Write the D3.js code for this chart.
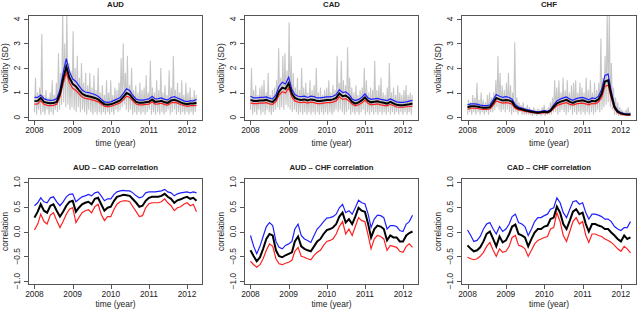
<!DOCTYPE html>
<html><head><meta charset="utf-8">
<script src="https://cdn.jsdelivr.net/npm/d3@7"></script>
<style>body{margin:0;background:#fff}svg{display:block}</style>
</head><body><svg id="c" width="640" height="310"></svg>
<script>
// ---------- DATA ----------
const months = ["2008-01","2008-02","2008-03","2008-04","2008-05","2008-06","2008-07","2008-08","2008-09","2008-10","2008-11","2008-12",
"2009-01","2009-02","2009-03","2009-04","2009-05","2009-06","2009-07","2009-08","2009-09","2009-10","2009-11","2009-12",
"2010-01","2010-02","2010-03","2010-04","2010-05","2010-06","2010-07","2010-08","2010-09","2010-10","2010-11","2010-12",
"2011-01","2011-02","2011-03","2011-04","2011-05","2011-06","2011-07","2011-08","2011-09","2011-10","2011-11","2011-12",
"2012-01","2012-02","2012-03","2012-04"];
const yearTicks = [2008, 2009, 2010, 2011, 2012];
const volTicks = [0, 1, 2, 3, 4];
const corTicks = [-1.0, -0.5, 0.0, 0.5, 1.0];
const grayStart = "2008-01-01";
const grayStepDays = 10;

// daily absolute returns (sampled every 10 days)
const audGray = [0.2,1.6,0.1,1.0,0.3,1.2,0.1,3.4,0.2,0.9,0.1,1.1,
0.3,0.8,0.1,1.0,0.2,1.5,0.1,0.9,0.3,1.4,0.2,2.6,
0.3,1.8,0.5,4.3,0.6,3.0,0.4,4.3,0.5,2.2,0.3,1.9,
0.4,3.5,0.3,2.0,0.2,2.5,0.4,1.6,0.2,2.2,0.3,1.4,
0.2,1.8,0.1,1.3,0.3,1.8,0.2,1.2,0.1,1.7,0.2,1.1,
0.1,2.0,0.2,1.0,0.1,1.3,0.2,0.9,0.1,1.5,0.2,1.0,
0.1,1.5,0.2,0.9,0.1,1.2,0.3,1.1,0.2,1.4,0.3,2.4,
0.4,3.0,0.5,1.8,0.3,2.5,0.2,1.3,0.3,2.0,0.1,1.1,
0.2,1.3,0.1,1.0,0.2,1.4,0.1,1.1,0.2,1.2,0.1,1.7,
0.2,1.0,0.3,2.3,0.1,1.2,0.2,1.0,0.1,1.5,0.2,1.1,
0.1,2.0,0.2,1.0,0.1,1.3,0.2,0.9,0.3,1.9,0.1,1.2,
0.2,2.5,0.3,1.1,0.1,1.4,0.2,1.0,0.1,1.5,0.2,0.9,
0.1,1.4,0.2,1.0,0.1,1.2,0.2,0.8,0.1,1.1,0.2,0.9];
const cadGray = [0.3,2.0,0.1,1.1,0.2,1.3,0.1,0.9,0.3,1.2,0.1,1.3,
0.2,1.5,0.1,1.0,0.3,1.8,0.2,0.9,0.1,1.1,0.2,1.2,
0.3,1.5,0.4,2.8,0.3,1.6,0.4,2.5,0.3,2.6,0.5,1.9,
0.4,3.85,0.3,2.5,0.2,1.8,0.3,1.2,0.2,1.6,0.1,1.1,
0.2,2.0,0.1,1.2,0.2,1.4,0.1,1.0,0.2,1.5,0.1,1.1,
0.2,1.3,0.1,2.0,0.2,1.0,0.1,1.2,0.2,0.9,0.1,1.1,
0.2,1.2,0.1,1.5,0.2,1.0,0.1,1.3,0.2,1.1,0.3,2.5,
0.2,1.4,0.3,2.3,0.2,1.5,0.1,1.3,0.2,2.85,0.3,1.6,
0.1,1.2,0.2,1.0,0.1,1.3,0.2,0.9,0.1,1.1,0.2,1.2,
0.3,2.0,0.1,1.5,0.2,1.0,0.1,1.2,0.2,1.1,0.1,2.3,
0.2,1.1,0.1,1.3,0.2,1.6,0.1,1.0,0.2,0.9,0.1,1.2,
0.2,2.2,0.1,1.0,0.2,1.2,0.1,0.9,0.2,1.3,0.1,1.0,
0.2,0.9,0.1,1.1,0.2,1.3,0.1,0.9,0.2,1.0,0.1,0.9];
const chfGray = [0.1,0.7,0.2,0.6,0.1,0.9,0.2,0.8,0.1,1.4,0.2,0.7,
0.1,1.0,0.2,0.7,0.1,0.6,0.2,0.9,0.1,1.0,0.2,0.8,
0.2,1.0,0.3,1.5,0.4,2.5,0.3,1.8,0.2,1.3,0.3,1.1,
0.2,1.4,0.3,1.8,0.2,1.3,0.1,1.0,0.2,3.05,0.2,0.8,
0.1,0.6,0.2,0.5,0.1,0.6,0.1,0.4,0.1,0.5,0.1,0.4,
0.1,0.3,0.05,0.4,0.1,0.3,0.05,0.35,0.1,0.3,0.05,0.4,
0.1,0.5,0.05,0.3,0.1,0.4,0.1,0.6,0.1,0.8,0.2,1.5,
0.2,1.2,0.1,1.5,0.2,1.0,0.3,1.6,0.2,1.1,0.1,1.5,
0.2,1.0,0.3,1.3,0.1,1.4,0.2,1.5,0.1,1.0,0.2,1.4,
0.1,1.2,0.2,1.0,0.1,1.6,0.2,1.1,0.1,1.5,0.2,1.0,
0.1,1.4,0.2,1.1,0.3,1.4,0.2,3.2,0.3,1.6,0.4,2.5,
0.5,4.3,0.6,4.3,0.4,2.2,0.3,1.2,0.1,0.8,0.1,0.6,
0.05,0.4,0.05,0.3,0.05,0.2,0.05,0.3,0.05,0.4,0.05,0.2];

// volatility estimates (monthly): median, lower, upper
const audMid = [0.65,0.66,0.78,0.62,0.58,0.56,0.57,0.62,0.95,1.55,2.05,1.6,1.35,1.25,1.1,0.95,0.88,0.85,0.82,0.78,0.72,0.62,0.52,0.5,0.52,0.57,0.62,0.68,0.82,0.98,0.92,0.75,0.62,0.58,0.58,0.6,0.62,0.72,0.62,0.63,0.66,0.6,0.58,0.68,0.7,0.66,0.6,0.55,0.52,0.55,0.55,0.58];
const audHi = [0.8,0.8,0.9,0.75,0.7,0.68,0.69,0.75,1.1,1.8,2.38,1.85,1.55,1.45,1.28,1.1,1.02,1.0,0.96,0.92,0.85,0.73,0.62,0.6,0.62,0.68,0.73,0.8,0.97,1.15,1.08,0.88,0.73,0.69,0.69,0.71,0.74,0.85,0.74,0.75,0.78,0.72,0.7,0.8,0.83,0.78,0.72,0.66,0.63,0.66,0.66,0.72];
const audLo = [0.53,0.54,0.66,0.52,0.48,0.47,0.48,0.52,0.82,1.35,1.8,1.4,1.17,1.08,0.95,0.82,0.76,0.74,0.71,0.67,0.62,0.53,0.44,0.42,0.44,0.48,0.53,0.58,0.7,0.85,0.8,0.65,0.53,0.5,0.5,0.52,0.53,0.62,0.53,0.54,0.57,0.51,0.49,0.58,0.6,0.57,0.51,0.47,0.44,0.47,0.47,0.48];
const cadMid = [0.7,0.66,0.66,0.68,0.68,0.7,0.65,0.62,0.75,1.05,1.2,1.15,1.38,0.95,0.78,0.72,0.7,0.72,0.68,0.72,0.7,0.66,0.66,0.68,0.7,0.7,0.72,0.78,0.96,0.85,0.88,0.78,0.62,0.55,0.6,0.68,0.8,0.66,0.6,0.62,0.64,0.6,0.58,0.55,0.62,0.56,0.5,0.48,0.48,0.5,0.52,0.55];
const cadHi = [0.85,0.78,0.78,0.8,0.8,0.82,0.77,0.74,0.9,1.25,1.42,1.35,1.62,1.12,0.92,0.85,0.83,0.85,0.8,0.85,0.83,0.78,0.78,0.8,0.82,0.82,0.85,0.92,1.12,1.0,1.03,0.92,0.74,0.67,0.72,0.8,0.94,0.78,0.72,0.74,0.76,0.72,0.7,0.67,0.74,0.68,0.62,0.6,0.6,0.62,0.65,0.68];
const cadLo = [0.58,0.55,0.55,0.57,0.57,0.59,0.54,0.52,0.63,0.9,1.03,0.98,1.2,0.81,0.66,0.61,0.59,0.61,0.57,0.61,0.59,0.55,0.55,0.57,0.59,0.59,0.61,0.66,0.83,0.72,0.75,0.66,0.52,0.46,0.5,0.57,0.68,0.55,0.5,0.52,0.54,0.5,0.48,0.46,0.52,0.47,0.41,0.4,0.4,0.42,0.43,0.45];
const chfMid = [0.4,0.44,0.44,0.43,0.4,0.38,0.38,0.4,0.58,0.78,0.72,0.68,0.7,0.68,0.62,0.42,0.35,0.32,0.28,0.25,0.22,0.2,0.18,0.2,0.22,0.2,0.26,0.42,0.56,0.62,0.66,0.7,0.62,0.58,0.64,0.66,0.68,0.64,0.6,0.66,0.64,0.72,0.95,1.45,1.5,0.9,0.4,0.22,0.15,0.12,0.1,0.1];
const chfHi = [0.5,0.54,0.54,0.53,0.49,0.47,0.47,0.49,0.7,0.92,0.85,0.8,0.83,0.8,0.73,0.5,0.41,0.37,0.33,0.29,0.26,0.23,0.21,0.23,0.26,0.23,0.3,0.5,0.66,0.73,0.78,0.82,0.73,0.68,0.75,0.78,0.8,0.75,0.7,0.78,0.75,0.85,1.12,1.7,1.75,1.05,0.47,0.26,0.18,0.14,0.12,0.12];
const chfLo = [0.32,0.36,0.36,0.35,0.33,0.31,0.31,0.33,0.48,0.66,0.61,0.57,0.59,0.57,0.52,0.35,0.29,0.27,0.23,0.21,0.18,0.17,0.15,0.17,0.18,0.17,0.22,0.35,0.47,0.52,0.56,0.59,0.52,0.49,0.54,0.56,0.57,0.54,0.5,0.56,0.54,0.61,0.8,1.25,1.3,0.76,0.34,0.18,0.12,0.09,0.08,0.08];

// correlation estimates (monthly): median, lower, upper
const audCadMid = [0.28,0.4,0.55,0.42,0.38,0.52,0.55,0.42,0.3,0.4,0.52,0.6,0.62,0.4,0.48,0.55,0.58,0.6,0.55,0.66,0.68,0.55,0.42,0.48,0.5,0.62,0.7,0.72,0.74,0.73,0.72,0.65,0.58,0.5,0.52,0.62,0.68,0.7,0.7,0.7,0.72,0.76,0.7,0.66,0.58,0.63,0.65,0.68,0.7,0.66,0.68,0.62];
const audCadHi = [0.52,0.58,0.68,0.6,0.58,0.68,0.7,0.6,0.52,0.6,0.7,0.75,0.76,0.6,0.65,0.7,0.72,0.75,0.72,0.78,0.8,0.72,0.62,0.66,0.66,0.75,0.8,0.82,0.83,0.82,0.82,0.78,0.72,0.68,0.7,0.78,0.8,0.8,0.8,0.81,0.82,0.85,0.8,0.78,0.72,0.76,0.78,0.79,0.8,0.78,0.8,0.78];
const audCadLo = [0.03,0.15,0.35,0.2,0.15,0.33,0.38,0.22,0.08,0.2,0.35,0.45,0.48,0.18,0.28,0.38,0.42,0.44,0.38,0.5,0.55,0.35,0.22,0.3,0.3,0.45,0.55,0.6,0.62,0.62,0.6,0.5,0.4,0.3,0.32,0.48,0.56,0.58,0.58,0.58,0.6,0.66,0.58,0.52,0.42,0.48,0.5,0.55,0.58,0.52,0.55,0.4];
const audChfMid = [-0.38,-0.5,-0.6,-0.52,-0.35,-0.15,-0.05,-0.08,-0.38,-0.5,-0.52,-0.48,-0.45,-0.42,-0.2,-0.1,-0.3,-0.35,-0.38,-0.4,-0.3,-0.2,-0.15,-0.05,0.03,0.05,0.08,0.15,0.3,0.38,0.18,0.25,0.15,0.3,0.48,0.42,0.4,0.15,-0.12,0.05,0.12,0.1,0.05,-0.18,-0.08,-0.12,-0.12,-0.2,-0.2,-0.08,-0.03,0.0];
const audChfHi = [-0.08,-0.3,-0.45,-0.3,-0.1,0.1,0.18,0.12,-0.2,-0.32,-0.35,-0.28,-0.25,-0.2,0.05,0.15,-0.08,-0.15,-0.18,-0.22,-0.08,0.05,0.12,0.2,0.27,0.28,0.3,0.35,0.48,0.55,0.38,0.42,0.35,0.48,0.63,0.58,0.56,0.35,0.08,0.25,0.33,0.32,0.28,0.05,0.12,0.12,0.1,0.02,0.0,0.15,0.2,0.33];
const audChfLo = [-0.6,-0.67,-0.72,-0.67,-0.55,-0.38,-0.25,-0.3,-0.55,-0.65,-0.67,-0.64,-0.62,-0.58,-0.4,-0.32,-0.5,-0.52,-0.55,-0.57,-0.48,-0.42,-0.38,-0.28,-0.2,-0.18,-0.15,-0.05,0.1,0.2,-0.05,0.05,-0.08,0.1,0.28,0.22,0.2,-0.08,-0.35,-0.15,-0.08,-0.1,-0.15,-0.38,-0.28,-0.3,-0.32,-0.4,-0.42,-0.3,-0.25,-0.32];
const cadChfMid = [-0.28,-0.35,-0.4,-0.38,-0.32,-0.2,-0.05,0.0,-0.15,-0.3,-0.1,-0.22,-0.18,-0.05,0.1,0.14,-0.05,-0.08,-0.12,-0.3,-0.15,-0.02,0.05,0.05,0.1,0.12,0.25,0.28,0.5,0.38,0.15,0.05,0.22,0.4,0.45,0.35,0.38,0.15,0.0,0.15,0.15,0.12,0.1,0.05,0.05,-0.02,-0.08,-0.15,-0.2,-0.08,-0.15,-0.12];
const cadChfHi = [0.03,-0.08,-0.2,-0.18,-0.1,0.05,0.15,0.18,0.05,-0.05,0.1,0.0,0.05,0.15,0.3,0.35,0.18,0.15,0.1,-0.08,0.05,0.2,0.28,0.28,0.32,0.35,0.45,0.48,0.68,0.58,0.38,0.28,0.45,0.6,0.62,0.55,0.58,0.38,0.25,0.35,0.35,0.33,0.3,0.25,0.25,0.2,0.1,0.05,0.02,0.08,0.08,0.2];
const cadChfLo = [-0.52,-0.55,-0.57,-0.55,-0.5,-0.42,-0.3,-0.22,-0.38,-0.5,-0.35,-0.42,-0.4,-0.3,-0.12,-0.08,-0.28,-0.3,-0.35,-0.5,-0.38,-0.25,-0.18,-0.15,-0.12,-0.1,0.05,0.08,0.38,0.2,-0.08,-0.2,0.0,0.2,0.28,0.15,0.2,-0.08,-0.22,-0.05,-0.05,-0.08,-0.1,-0.15,-0.18,-0.22,-0.28,-0.35,-0.4,-0.3,-0.35,-0.43];

// ---------- LAYOUT ----------
const cols = [[28, 203], [244, 419], [461, 637]];
const rows = [[15, 121], [178, 285]];
const panels = [
  {title:"AUD", ylab:"volatility (SD)", gray:audGray, mid:audMid, lo:audLo, hi:audHi, c:0, r:0, type:"vol"},
  {title:"CAD", ylab:"volatility (SD)", gray:cadGray, mid:cadMid, lo:cadLo, hi:cadHi, c:1, r:0, type:"vol"},
  {title:"CHF", ylab:"volatility (SD)", gray:chfGray, mid:chfMid, lo:chfLo, hi:chfHi, c:2, r:0, type:"vol"},
  {title:"AUD \u2013 CAD correlation", ylab:"correlation", mid:audCadMid, lo:audCadLo, hi:audCadHi, c:0, r:1, type:"cor"},
  {title:"AUD \u2013 CHF correlation", ylab:"correlation", mid:audChfMid, lo:audChfLo, hi:audChfHi, c:1, r:1, type:"cor"},
  {title:"CAD \u2013 CHF correlation", ylab:"correlation", mid:cadChfMid, lo:cadChfLo, hi:cadChfHi, c:2, r:1, type:"cor"}
];

const svg = d3.select("#c");
const parseM = d3.timeParse("%Y-%m");
const mDates = months.map(parseM);
const g0 = d3.timeParse("%Y-%m-%d")(grayStart);
const FONT = "Liberation Sans, Arial, Helvetica, sans-serif";
const TXT = "#222";

panels.forEach((p, pi) => {
  const [x0, x1] = cols[p.c];
  const [y0, y1] = rows[p.r];
  const x = d3.scaleTime()
    .domain([new Date(2007, 9, 31), new Date(2012, 5, 2)])
    .range([x0, x1]);
  const y = d3.scaleLinear()
    .domain(p.type === "vol" ? [-0.16, 4.16] : [-1.08, 1.08])
    .range([y1, y0]);
  const g = svg.append("g");
  const cid = "clip" + pi;
  svg.append("clipPath").attr("id", cid).append("rect")
    .attr("x", x0).attr("y", y0).attr("width", x1 - x0).attr("height", y1 - y0);
  const plot = g.append("g").attr("clip-path", `url(#${cid})`);

  if (p.gray) {
    const gd = p.gray.map((v, i) => ({t: d3.timeDay.offset(g0, i * grayStepDays), v}));
    plot.append("path").datum(gd)
      .attr("d", d3.line().x(d => x(d.t)).y(d => y(d.v)))
      .attr("fill", "none").attr("stroke", "#c6c6c6").attr("stroke-width", 1.1);
  }
  const line = d3.line().x((d, i) => x(mDates[i])).y(d => y(d));
  plot.append("path").datum(p.lo).attr("d", line).attr("fill", "none")
    .attr("stroke", "#ff2020").attr("stroke-width", 1.2);
  plot.append("path").datum(p.hi).attr("d", line).attr("fill", "none")
    .attr("stroke", "#2020ff").attr("stroke-width", 1.2);
  plot.append("path").datum(p.mid).attr("d", line).attr("fill", "none")
    .attr("stroke", "#000").attr("stroke-width", 2);

  // box
  g.append("rect").attr("x", x0 + 0.5).attr("y", y0 + 0.5)
    .attr("width", x1 - x0 - 1).attr("height", y1 - y0 - 1)
    .attr("fill", "none").attr("stroke", "#555").attr("stroke-width", 1);

  // x axis (R style)
  const xt = yearTicks.map(yr => new Date(yr, 0, 1));
  const ax = g.append("g").attr("stroke", "#555");
  xt.forEach((d, i) => {
    ax.append("line").attr("x1", Math.round(x(d)) + 0.5).attr("x2", Math.round(x(d)) + 0.5)
      .attr("y1", y1).attr("y2", y1 + 4);
    g.append("text").attr("x", x(d)).attr("y", y1 + 12)
      .attr("text-anchor", "middle").attr("font-family", FONT).attr("font-size", 8.4)
      .attr("fill", TXT).text(yearTicks[i]);
  });
  g.append("text").attr("x", (x0 + x1) / 2).attr("y", p.r === 0 ? y1 + 25 : y1 + 22)
    .attr("text-anchor", "middle").attr("font-family", FONT).attr("font-size", 8.4)
    .attr("fill", TXT).text("time (year)");

  // y axis
  const yt = p.type === "vol" ? volTicks : corTicks;
  const ay = g.append("g").attr("stroke", "#555");
  yt.forEach(v => {
    const yy = Math.round(y(v)) + 0.5;
    ay.append("line").attr("x1", x0 - 4).attr("x2", x0).attr("y1", yy).attr("y2", yy);
    g.append("text").attr("transform", `translate(${x0 - 8},${y(v)}) rotate(-90)`)
      .attr("text-anchor", "middle").attr("font-family", FONT).attr("font-size", 8.4)
      .attr("fill", TXT).text(p.type === "vol" ? d3.format("d")(v) : d3.format(".1f")(v).replace("-", "\u2212"));
  });
  g.append("text").attr("transform", `translate(${x0 - 20},${(y0 + y1) / 2}) rotate(-90)`)
    .attr("text-anchor", "middle").attr("font-family", FONT).attr("font-size", 8.4)
    .attr("fill", TXT).text(p.ylab);

  // title
  g.append("text").attr("x", (x0 + x1) / 2).attr("y", y0 - 8.5)
    .attr("text-anchor", "middle").attr("font-family", FONT).attr("font-size", 7.8)
    .attr("font-weight", "bold").attr("fill", TXT).text(p.title);
});
</script></body></html>
